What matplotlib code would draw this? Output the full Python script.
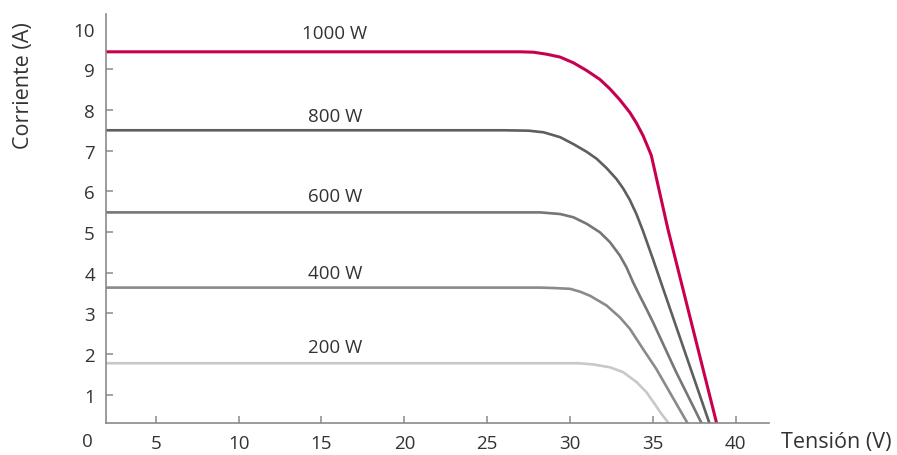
import numpy as np
import matplotlib.pyplot as plt

plt.rcParams['font.family'] = ['Open Sans', 'DejaVu Sans']

# I-V curves (voltage in V, current in A)
v_1000 = [0, 26.0, 27.0, 27.8, 28.6, 29.4, 30.2, 31.0, 31.8, 32.4, 33.0, 33.6, 34.0, 34.4, 34.7, 34.9, 35.9, 38.8, 39.0]
i_1000 = [9.43, 9.43, 9.43, 9.42, 9.37, 9.30, 9.16, 8.97, 8.75, 8.52, 8.25, 7.94, 7.68, 7.37, 7.08, 6.88, 5.07, 0.36, 0.0]

v_800 = [0, 26.0, 27.5, 28.4, 29.4, 30.2, 31.0, 31.6, 32.2, 32.8, 33.2, 33.6, 34.0, 34.4, 35.0, 38.35, 38.65]
i_800 = [7.50, 7.50, 7.49, 7.45, 7.33, 7.16, 6.97, 6.80, 6.57, 6.30, 6.07, 5.79, 5.44, 5.02, 4.33, 0.36, 0.0]

v_600 = [0, 27.5, 28.2, 29.4, 30.2, 31.0, 31.8, 32.4, 33.0, 33.4, 33.8, 34.2, 34.6, 35.0, 36.4, 37.85, 38.3]
i_600 = [5.48, 5.48, 5.48, 5.44, 5.36, 5.20, 4.99, 4.75, 4.42, 4.13, 3.76, 3.43, 3.11, 2.78, 1.55, 0.36, 0.0]

v_400 = [0, 28.2, 29.0, 30.0, 30.6, 31.2, 32.2, 33.0, 33.6, 34.4, 35.2, 37.05, 37.5]
i_400 = [3.63, 3.63, 3.62, 3.60, 3.53, 3.43, 3.19, 2.90, 2.62, 2.12, 1.63, 0.32, 0.0]

v_200 = [0, 30.5, 31.4, 32.4, 33.2, 34.0, 34.6, 35.1, 35.5, 35.9, 36.4]
i_200 = [1.77, 1.77, 1.74, 1.67, 1.55, 1.31, 1.06, 0.77, 0.53, 0.32, 0.0]

labels = ['200 W', '400 W', '600 W', '800 W', '1000 W']
label_y = [2.17, 4.0, 5.89, 7.85, 9.89]
label_x = 15.8

curves = [(v_200, i_200), (v_400, i_400), (v_600, i_600), (v_800, i_800), (v_1000, i_1000)]
colors = ['#c8c8c8', '#8a8a8a', '#767676', '#5e5e5e', '#c8004f']
widths = [1.9, 1.9, 1.9, 1.9, 2.2]

xticks = [5, 10, 15, 20, 25, 30, 35, 40]
yticks = [1, 2, 3, 4, 5, 6, 7, 8, 9, 10]

fig = plt.figure(figsize=(8.97, 4.56), dpi=100)
ax = fig.add_axes([0.1182, 0.0702, 0.7391, 0.8969])

for (v, i), c, w in zip(curves, colors, widths):
    ax.plot(v, i, color=c, lw=w, solid_capstyle='butt', solid_joinstyle='round')

for lab, y in zip(labels, label_y):
    ax.text(label_x, y, lab, ha='center', va='center', fontsize=13.5, color='#333333')

ax.set_xlim(2, 42)
ax.set_ylim(0.3, 10.36)
ax.set_xticks(xticks)
ax.set_yticks(yticks)

for s in ['top', 'right']:
    ax.spines[s].set_visible(False)
for s in ['left', 'bottom']:
    ax.spines[s].set_color('#8a8a8a')
    ax.spines[s].set_linewidth(1.2)

ax.tick_params(direction='in', length=5, width=1.1, color='#8a8a8a',
               labelsize=13.5, labelcolor='#333333', pad=8)
ax.yaxis.get_major_ticks()[-1].tick1line.set_visible(False)

# corner "0"
ax.text(0.88, -0.045, '0', transform=ax.get_xaxis_transform(), ha='center', va='center',
        fontsize=13.5, color='#333333', clip_on=False)

fig.text(23 / 897, 1 - 86 / 456, 'Corriente (A)', rotation=90, ha='center', va='center',
         fontsize=15.5, color='#333333')
fig.text(836 / 897, 1 - 443 / 456, 'Tensión (V)', ha='center', va='center',
         fontsize=15.5, color='#333333')

fig.savefig('out.png', dpi=100)
